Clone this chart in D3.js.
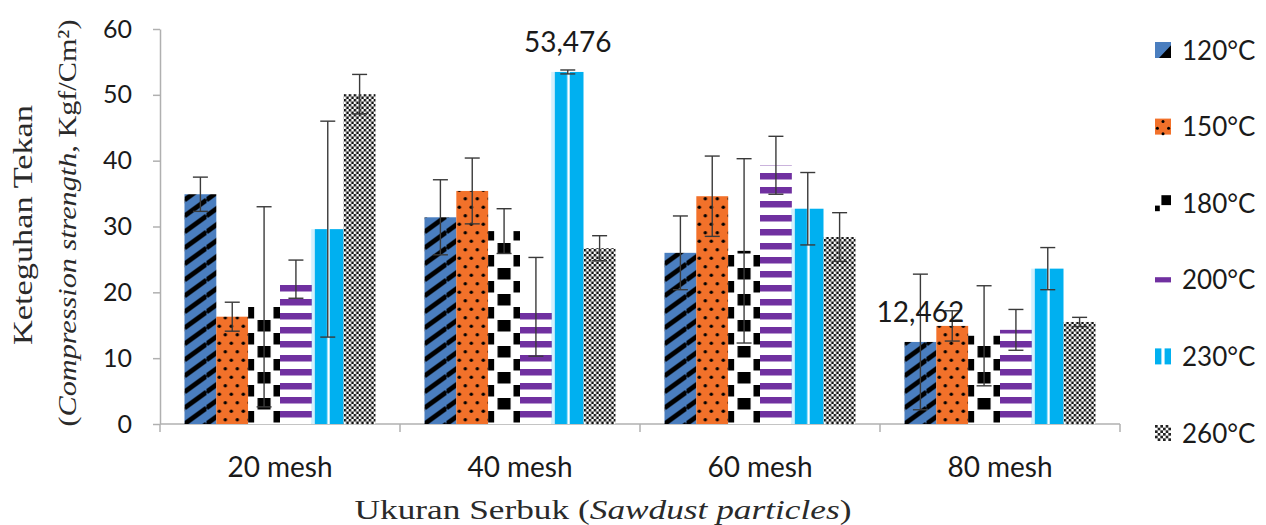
<!DOCTYPE html>
<html>
<head>
<meta charset="utf-8">
<script src="https://cdn.jsdelivr.net/npm/d3@7"></script>
<style>
  body { margin: 0; background: #fff; }
  svg { display: block; }
</style>
</head>
<body>
<svg id="chart" width="1266" height="525"></svg>
<script>
// Compression strength (Kgf/Cm²) by sawdust particle size and temperature
const categories = ["20 mesh", "40 mesh", "60 mesh", "80 mesh"];
const seriesNames = ["120°C", "150°C", "180°C", "200°C", "230°C", "260°C"];

const strength120 = [34.9, 31.4, 26.0, 12.462];
const strength150 = [16.3, 35.4, 34.6, 14.9];
const strength180 = [17.8, 29.3, 26.3, 13.4];
const strength200 = [22.0, 17.8, 39.3, 14.3];
const strength230 = [29.6, 53.476, 32.7, 23.6];
const strength260 = [50.1, 26.7, 28.4, 15.5];

const error120 = [2.6, 5.7, 5.6, 10.3];
const error150 = [2.2, 5.0, 6.1, 2.3];
const error180 = [15.2, 3.4, 14.0, 7.6];
const error200 = [2.9, 7.5, 4.4, 3.1];
const error230 = [16.4, 0.3, 5.5, 3.2];
const error260 = [3.0, 1.9, 3.7, 0.7];

const yTickValues = [0, 10, 20, 30, 40, 50, 60];

// bars that carry a value label: [series, category]
const labelledBars = [["230°C", "40 mesh"], ["120°C", "80 mesh"]];

const seriesValues = [strength120, strength150, strength180, strength200, strength230, strength260];
const seriesErrors = [error120, error150, error180, error200, error230, error260];

const series = seriesNames.map((name, i) => ({ name, index: i, values: seriesValues[i], errors: seriesErrors[i] }));
const points = [];
series.forEach(s => categories.forEach((c, j) => {
  points.push({ series: s.name, si: s.index, category: c, ci: j, value: s.values[j], error: s.errors[j] });
}));

const COLORS = {
  blue: "#4a7ebf", orange: "#f2712a", purple: "#7030a0", cyan: "#00b0f0"
};

const svg = d3.select("#chart");
const defs = svg.append("defs");

const x0 = d3.scaleBand().domain(categories).range([160, 1120]).paddingInner(0.204).paddingOuter(0.102);
const x1 = d3.scaleBand().domain(seriesNames).range([0, x0.bandwidth()]);
const y = d3.scaleLinear().domain([0, 60]).range([424, 29]);

const bw = x1.bandwidth();

// one fill pattern per bar, anchored at the bar's left edge and the baseline
function makePattern(id, si, bx) {
  const p = defs.append("pattern").attr("id", id).attr("patternUnits", "userSpaceOnUse").attr("x", bx).attr("y", y(0));
  if (si === 0) {
    const w = 22, h = 16;
    p.attr("width", w).attr("height", h);
    p.append("rect").attr("width", w).attr("height", h).attr("fill", COLORS.blue);
    p.append("path")
      .attr("d", [-1, 0, 1].map(k => `M0,${h * (1 + k)}L${w},${h * k}`).join(""))
      .attr("stroke", "#000").attr("stroke-width", 4.8).attr("fill", "none");
  } else if (si === 1) {
    const w = 12, h = 17;
    p.attr("width", w).attr("height", h);
    p.append("rect").attr("width", w).attr("height", h).attr("fill", COLORS.orange);
    [[3, h / 4], [9, 3 * h / 4]].forEach(([cx, cy]) =>
      p.append("circle").attr("cx", cx).attr("cy", cy).attr("r", 1.7).attr("fill", "#000"));
  } else if (si === 2) {
    const w = bw, h = 26, sh = 11.5, half = h / 2;
    p.attr("width", w).attr("height", h);
    p.append("rect").attr("width", w).attr("height", h).attr("fill", "#fff");
    // centre column on one row, the two edge columns on the other
    [[w / 2 - 6.5, 0, 13], [0, half, 6], [w - 6.5, half, 6.5]].forEach(([rx, ry, rw]) =>
      p.append("rect").attr("x", rx).attr("y", ry).attr("width", rw).attr("height", sh).attr("fill", "#000"));
  } else if (si === 3) {
    const w = bw, h = 14;
    p.attr("width", w).attr("height", h);
    p.append("rect").attr("width", w).attr("height", h).attr("fill", "#fff");
    p.append("rect").attr("y", 1).attr("width", w).attr("height", 6.5).attr("fill", COLORS.purple);
  } else if (si === 4) {
    const w = bw, h = 10;
    p.attr("width", w).attr("height", h);
    p.append("rect").attr("width", w).attr("height", h).attr("fill", COLORS.cyan);
    p.append("rect").attr("x", 0).attr("width", 3).attr("height", h).attr("fill", "#d4f0fc");
    p.append("rect").attr("x", w * 0.485).attr("width", 2.4).attr("height", h).attr("fill", "#fff");
  } else {
    const w = 5, h = 5;
    p.attr("width", w).attr("height", h);
    p.append("rect").attr("width", w).attr("height", h).attr("fill", "#fff");
    p.append("rect").attr("width", 2.5).attr("height", 2.5).attr("fill", "#111");
    p.append("rect").attr("x", 2.5).attr("y", 2.5).attr("width", 2.5).attr("height", 2.5).attr("fill", "#111");
  }
}

points.forEach(d => {
  d.x = x0(d.category) + x1(d.series);
  d.pid = `fill-${d.si}-${d.ci}`;
  makePattern(d.pid, d.si, d.x);
});

// axes
const axisColor = "#b0b0b0";
const yAxis = svg.append("g").attr("transform", "translate(160,0)")
  .call(d3.axisLeft(y).tickValues(yTickValues).tickSize(7).tickSizeOuter(0).tickPadding(21));
yAxis.select(".domain").attr("stroke", axisColor).attr("stroke-width", 1.5);
yAxis.selectAll(".tick line").attr("stroke", axisColor).attr("stroke-width", 1.5);
yAxis.selectAll(".tick text")
  .attr("font-family", "Lato, 'Open Sans', sans-serif").attr("font-size", 25).attr("fill", "#1a1a1a");

const xAxis = svg.append("g").attr("transform", `translate(0,${y(0)})`)
  .call(d3.axisBottom(x0).tickSize(0).tickSizeOuter(0));
xAxis.select(".domain").remove();
xAxis.selectAll(".tick text")
  .attr("y", 53).attr("dy", 0)
  .attr("font-family", "Lato, 'Open Sans', sans-serif").attr("font-size", 28).attr("fill", "#1a1a1a");

const [rx0, rx1] = x0.range();
svg.append("line").attr("x1", rx0).attr("x2", rx1).attr("y1", y(0)).attr("y2", y(0))
  .attr("stroke", axisColor).attr("stroke-width", 1.5);
const boundaries = categories.map(c => x0(c) - x0.step() * x0.paddingInner() / 2).concat([rx1]);
svg.append("g").selectAll("line").data(boundaries).join("line")
  .attr("x1", d => d).attr("x2", d => d).attr("y1", y(0)).attr("y2", y(0) + 8)
  .attr("stroke", axisColor).attr("stroke-width", 1.5);

// bars
svg.append("g").selectAll("rect").data(points).join("rect")
  .attr("x", d => d.x).attr("y", d => y(d.value))
  .attr("width", bw).attr("height", d => y(0) - y(d.value))
  .attr("fill", d => `url(#${d.pid})`);

// error bars
const capW = 15;
const eg = svg.append("g").attr("stroke", "#3a3a3a").attr("stroke-width", 1.4);
points.forEach(d => {
  const cx = d.x + bw / 2;
  const top = y(d.value + d.error), bot = y(Math.max(0, d.value - d.error));
  eg.append("line").attr("x1", cx).attr("x2", cx).attr("y1", top).attr("y2", bot);
  eg.append("line").attr("x1", cx - capW / 2).attr("x2", cx + capW / 2).attr("y1", top).attr("y2", top);
  eg.append("line").attr("x1", cx - capW / 2).attr("x2", cx + capW / 2).attr("y1", bot).attr("y2", bot);
});

// value labels
const fmt = v => d3.format(".3f")(v).replace(".", ",");
svg.append("g").selectAll("text")
  .data(labelledBars.map(([s, c]) => points.find(p => p.series === s && p.category === c)))
  .join("text")
  .attr("x", d => d.x + bw / 2).attr("y", d => y(d.value) - 20)
  .attr("text-anchor", "middle")
  .attr("font-family", "Lato, 'Open Sans', sans-serif").attr("font-size", 28).attr("fill", "#1a1a1a")
  .text(d => fmt(d.value));

// axis titles
const serif = "'Liberation Serif', 'DejaVu Serif', serif";
const xt = svg.append("text").attr("x", 603).attr("y", 519).attr("text-anchor", "middle")
  .attr("font-family", serif).attr("font-size", 27).attr("fill", "#2a2a2a")
  .attr("textLength", 497).attr("lengthAdjust", "spacingAndGlyphs");
xt.append("tspan").text("Ukuran Serbuk (");
xt.append("tspan").attr("font-style", "italic").text("Sawdust particles");
xt.append("tspan").text(")");

svg.append("text").attr("transform", "translate(32,225) rotate(-90)").attr("text-anchor", "middle")
  .attr("font-family", serif).attr("font-size", 28).attr("fill", "#2a2a2a")
  .attr("textLength", 240).attr("lengthAdjust", "spacingAndGlyphs")
  .text("Keteguhan Tekan");
const yt2 = svg.append("text").attr("transform", "translate(76,223) rotate(-90)").attr("text-anchor", "middle")
  .attr("font-family", serif).attr("font-size", 26).attr("fill", "#2a2a2a")
  .attr("textLength", 407).attr("lengthAdjust", "spacingAndGlyphs");
yt2.append("tspan").text("(");
yt2.append("tspan").attr("font-style", "italic").text("Compression strength");
yt2.append("tspan").text(", Kgf/Cm²)");

// legend
const legendX = 1155, legendY0 = 50, legendStep = 76.6, sw = 16;
const legend = svg.append("g");
series.forEach(s => {
  const cy = legendY0 + s.index * legendStep;
  const g = legend.append("g").attr("transform", `translate(${legendX},${cy - sw / 2})`);
  if (s.index === 0) {
    g.append("rect").attr("width", sw).attr("height", sw).attr("fill", COLORS.blue);
    g.append("path").attr("d", `M${sw},${sw * 0.2}L${sw},${sw}L${sw * 0.25},${sw}Z`).attr("fill", "#000");
  } else if (s.index === 1) {
    g.append("rect").attr("width", sw).attr("height", sw).attr("fill", COLORS.orange);
    [[0.5, 0.18], [0.15, 0.6], [0.85, 0.6], [0.5, 0.95]].forEach(([fx, fy]) =>
      g.append("circle").attr("cx", fx * sw).attr("cy", fy * sw).attr("r", 1.5).attr("fill", "#000"));
  } else if (s.index === 2) {
    g.append("rect").attr("x", sw * 0.4).attr("y", 0).attr("width", sw * 0.6).attr("height", sw * 0.62).attr("fill", "#000");
    g.append("rect").attr("x", 0).attr("y", sw * 0.65).attr("width", sw * 0.3).attr("height", sw * 0.35).attr("fill", "#000");
  } else if (s.index === 3) {
    g.append("rect").attr("x", 0).attr("y", sw / 2 - 2.6).attr("width", sw).attr("height", 5.2).attr("fill", COLORS.purple);
  } else if (s.index === 4) {
    g.append("rect").attr("x", 0).attr("width", sw * 0.4).attr("height", sw).attr("fill", COLORS.cyan);
    g.append("rect").attr("x", sw * 0.6).attr("width", sw * 0.4).attr("height", sw).attr("fill", COLORS.cyan);
  } else {
    const c = sw / 6;
    for (let r = 0; r < 6; r++) for (let k = 0; k < 6; k++) {
      if ((r + k) % 2 === 0) g.append("rect").attr("x", k * c).attr("y", r * c).attr("width", c).attr("height", c).attr("fill", "#222");
    }
  }
  legend.append("text").attr("x", 1182).attr("y", cy + 9.5)
    .attr("font-family", "Lato, 'Open Sans', sans-serif").attr("font-size", 26).attr("fill", "#1a1a1a")
    .text(s.name);
});
</script>
</body>
</html>
